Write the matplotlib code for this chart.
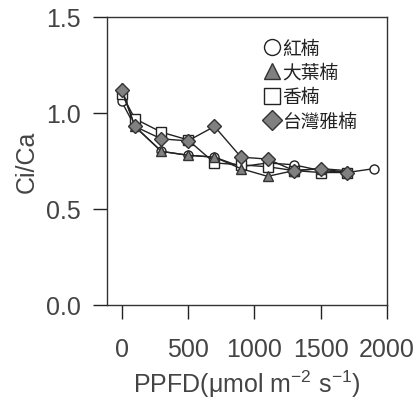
import matplotlib
matplotlib.use("Agg")
import matplotlib.pyplot as plt
from matplotlib.lines import Line2D

plt.rcParams['font.family'] = ['Liberation Sans', 'DejaVu Sans']
plt.rcParams['mathtext.fontset'] = 'custom'
plt.rcParams['mathtext.rm'] = 'Liberation Sans'
plt.rcParams['mathtext.it'] = 'Liberation Sans'
plt.rcParams['mathtext.default'] = 'regular'

x_hongnan = [0, 100, 300, 500, 700, 900, 1100, 1300, 1500, 1700, 1900]
y_hongnan = [1.06, 0.93, 0.80, 0.78, 0.77, 0.72, 0.74, 0.73, 0.70, 0.69, 0.71]

x_other = [0, 100, 300, 500, 700, 900, 1100, 1300, 1500, 1700]
y_dayenan = [1.13, 0.93, 0.80, 0.78, 0.77, 0.71, 0.67, 0.70, 0.71, 0.70]
y_xiangnan = [1.10, 0.97, 0.90, 0.86, 0.74, 0.73, 0.72, 0.70, 0.69, 0.69]
y_yanan = [1.12, 0.93, 0.865, 0.855, 0.93, 0.77, 0.76, 0.70, 0.71, 0.69]

labels = ['紅楠', '大葉楠', '香楠', '台灣雅楠']
xticks = [0, 500, 1000, 1500, 2000]
yticks = [0.0, 0.5, 1.0, 1.5]

fig = plt.figure(figsize=(4.19, 4.10), dpi=100)
ax = fig.add_axes([0.2554, 0.2537, 0.6682, 0.7024])

gray = '#808080'
lw = 1.0
ax.plot(x_hongnan, y_hongnan, '-', color='#222222', lw=lw, marker='o', ms=6.5,
        mfc='white', mec='#222222', mew=1.0, zorder=3)
ax.plot(x_other, y_dayenan, '-', color='#222222', lw=lw, marker='^', ms=7.5,
        mfc=gray, mec='#333333', mew=1.0, zorder=4)
ax.plot(x_other, y_xiangnan, '-', color='#222222', lw=lw, marker='s', ms=6.5,
        mfc='white', mec='#222222', mew=1.0, zorder=3)
ax.plot(x_other, y_yanan, '-', color='#222222', lw=lw, marker='D', ms=7,
        mfc=gray, mec='#333333', mew=1.0, zorder=5)

ax.set_xlim(-110, 2000)
ax.set_ylim(0, 1.5)
ax.set_xticks(xticks)
ax.set_yticks(yticks)
ax.set_yticklabels([f'{v:.1f}' for v in yticks])
ax.tick_params(axis='both', direction='out', length=10, width=1.0,
               labelsize=18, colors='#222222', labelcolor='#444444')
ax.tick_params(axis='y', pad=9)
ax.tick_params(axis='x', pad=13)
for s in ax.spines.values():
    s.set_linewidth(1.0)
    s.set_color('#333333')

ax.set_ylabel('Ci/Ca', fontsize=18, color='#444444', labelpad=5)
ax.set_xlabel('PPFD(\u03bcmol m$^{-2}$ s$^{-1}$)', fontsize=18, color='#444444',
              labelpad=5)

handles = [
    Line2D([], [], ls='none', marker='o', ms=11.5, mfc='white', mec='#222222', mew=1.0),
    Line2D([], [], ls='none', marker='^', ms=11.5, mfc=gray, mec='#333333', mew=1.0),
    Line2D([], [], ls='none', marker='s', ms=11.5, mfc='white', mec='#222222', mew=1.0),
    Line2D([], [], ls='none', marker='D', ms=10, mfc=gray, mec='#333333', mew=1.0),
]
leg = ax.legend(handles, labels, loc='upper left', bbox_to_anchor=(0.535, 0.955),
                frameon=False, handlelength=0.85, handletextpad=0.1,
                labelspacing=0.18, borderaxespad=0,
                prop={'family': ['Noto Sans CJK TC', 'DejaVu Sans'], 'size': 13.5})
for t in leg.get_texts():
    t.set_color('#222222')

fig.savefig('out.png', dpi=100)
